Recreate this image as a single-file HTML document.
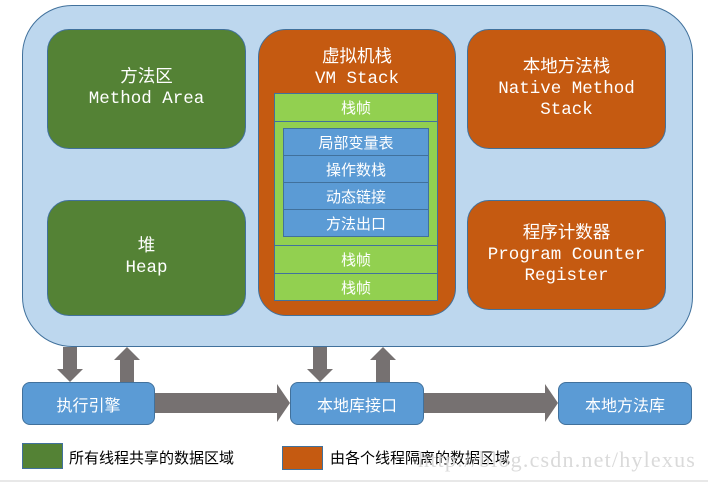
<!DOCTYPE html>
<html><head><meta charset="utf-8"><style>
body{margin:0;width:708px;height:482px;background:#fff;position:relative;overflow:hidden;font-family:"Liberation Sans","Noto Sans CJK SC",sans-serif}
.a{position:absolute;box-sizing:border-box;display:flex;flex-direction:column;align-items:center;justify-content:center;text-align:center;color:#fff}
.m{font-family:"Liberation Mono","Noto Sans CJK SC",monospace;font-size:17.5px;line-height:21px}
.g{background:#548235;border:1px solid #41719c;border-radius:22px}
.o{background:#c55a11;border:1px solid #41719c;border-radius:22px}
.f{background:#92d050;border:1px solid #41719c;font-size:15px}
.b{background:#5b9bd5;border:1px solid #41719c;font-size:15px}
.bb{background:#5b9bd5;border:1px solid #41719c;border-radius:8px;font-size:16px}
</style></head><body>
<div class="a" style="left:22px;top:5px;width:671px;height:342px;background:#bdd7ee;border:1px solid #41719c;border-radius:50px"></div>
<div class="a g m" style="left:47px;top:29px;width:199px;height:120px">方法区<br>Method Area</div>
<div class="a g m" style="left:47px;top:200px;width:199px;height:116px">堆<br>Heap</div>
<div class="a o m" style="left:258px;top:29px;width:198px;height:287px;justify-content:flex-start;padding-top:18px;border-radius:28px">虚拟机栈<br>VM Stack</div>
<div class="a o m" style="left:467px;top:29px;width:199px;height:120px">本地方法栈<br>Native Method<br>Stack</div>
<div class="a o m" style="left:467px;top:200px;width:199px;height:110px">程序计数器<br>Program Counter<br>Register</div>
<div class="a f" style="left:274px;top:93px;width:164px;height:29px">栈帧</div>
<div class="a f" style="left:274px;top:121px;width:164px;height:125px"></div>
<div class="a f" style="left:274px;top:245px;width:164px;height:29px">栈帧</div>
<div class="a f" style="left:274px;top:273px;width:164px;height:28px">栈帧</div>
<div class="a b" style="left:283px;top:128px;width:146px;height:28px">局部变量表</div>
<div class="a b" style="left:283px;top:155px;width:146px;height:28px">操作数栈</div>
<div class="a b" style="left:283px;top:182px;width:146px;height:28px">动态链接</div>
<div class="a b" style="left:283px;top:209px;width:146px;height:28px">方法出口</div>
<svg style="position:absolute;left:0;top:0" width="708" height="482">
<g fill="#767171">
<polygon points="63,347 77,347 77,369 83,369 70,382 57,369 63,369"/>
<polygon points="120,382 134,382 134,360 140,360 127,347 114,360 120,360"/>
<polygon points="313,347 327,347 327,369 333,369 320,382 307,369 313,369"/>
<polygon points="376,382 390,382 390,360 396,360 383,347 370,360 376,360"/>
<polygon points="154,393 277,393 277,384 290,403 277,422 277,413 154,413"/>
<polygon points="423,393 545,393 545,384 558,403 545,422 545,413 423,413"/>
</g></svg>
<div class="a bb" style="left:22px;top:382px;width:133px;height:43px">执行引擎</div>
<div class="a bb" style="left:290px;top:382px;width:134px;height:43px">本地库接口</div>
<div class="a bb" style="left:558px;top:382px;width:134px;height:43px">本地方法库</div>
<div class="a" style="left:22px;top:443px;width:41px;height:26px;background:#548235;border:1px solid #41719c"></div>
<div style="position:absolute;left:69px;top:447px;font-size:15px;color:#000">所有线程共享的数据区域</div>
<div class="a" style="left:282px;top:446px;width:41px;height:24px;background:#c55a11;border:1px solid #41719c"></div>
<div style="position:absolute;left:330px;top:447px;font-size:15px;color:#000">由各个线程隔离的数据区域</div>
<div style="position:absolute;left:418px;top:447px;font-family:'Liberation Serif',serif;font-size:22px;letter-spacing:1.2px;color:#dadada;white-space:nowrap">http://blog.csdn.net/hylexus</div>
<div style="position:absolute;left:0;top:480px;width:708px;height:2px;background:#e8e8e8"></div>
</body></html>
